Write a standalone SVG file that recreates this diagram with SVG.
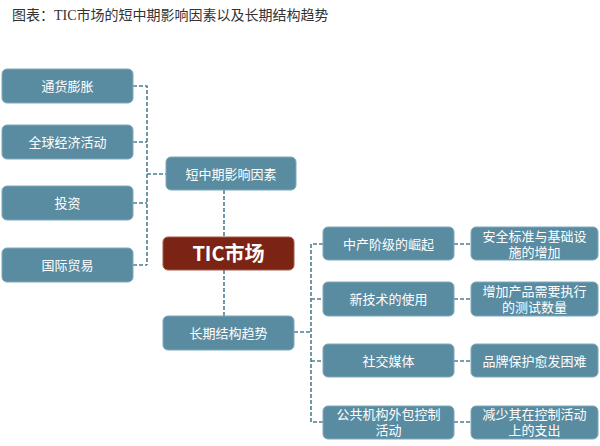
<svg xmlns="http://www.w3.org/2000/svg" width="600" height="446" viewBox="0 0 600 446">
<style>
.b{fill:#5a8ca1;stroke:#7fa9ba;stroke-width:1}
.t{fill:#fff;font-family:"Noto Sans CJK SC","Noto Sans",sans-serif;font-size:13px;text-anchor:middle}
.c{fill:none;stroke:#4e7e93;stroke-width:1.6;stroke-dasharray:4 2}
</style>
<rect width="600" height="446" fill="#fff"/>
<text x="12" y="20" font-family="'Liberation Serif','Noto Sans CJK SC',serif" font-size="14" fill="#333">图表：TIC市场的短中期影响因素以及长期结构趋势</text>
<g id="connectors">
<path class="c" d="M133 86H147V265M133 142H147M133 203H147M133 265H147M147 174H166"/>
<path class="c" d="M224 190V237M224 270V316"/>
<path class="c" d="M294 332H311M323 244H311V422H323M311 299H323M311 361H323"/>
<path class="c" d="M454 244H471M454 299H471M454 361H471M454 422H471"/>
</g>
<g id="n1"><rect class="b" x="2" y="69" width="131" height="34" rx="5"/><text class="t" x="67.5" y="91">通货膨胀</text></g>
<g id="n2"><rect class="b" x="2" y="125" width="131" height="34" rx="5"/><text class="t" x="67.5" y="147">全球经济活动</text></g>
<g id="n3"><rect class="b" x="2" y="186" width="131" height="34" rx="5"/><text class="t" x="67.5" y="208">投资</text></g>
<g id="n4"><rect class="b" x="2" y="248" width="131" height="34" rx="5"/><text class="t" x="67.5" y="270">国际贸易</text></g>
<g id="short"><rect class="b" x="166" y="157" width="130" height="33" rx="5"/><text class="t" x="231" y="179">短中期影响因素</text></g>
<g id="tic"><rect x="163" y="237" width="131" height="33" rx="5" fill="#7b2414" stroke="#a4584a"/><text x="228.5" y="261" fill="#fff" font-family="'Noto Sans CJK SC','Noto Sans',sans-serif" font-size="20" font-weight="bold" text-anchor="middle">TIC市场</text></g>
<g id="long"><rect class="b" x="163" y="316" width="131" height="34" rx="5"/><text class="t" x="228.5" y="338">长期结构趋势</text></g>
<g id="m1"><rect class="b" x="323" y="227" width="131" height="33" rx="5"/><text class="t" x="388.5" y="249">中产阶级的崛起</text></g>
<g id="m2"><rect class="b" x="323" y="282" width="131" height="34" rx="5"/><text class="t" x="388.5" y="304">新技术的使用</text></g>
<g id="m3"><rect class="b" x="323" y="344" width="131" height="33" rx="5"/><text class="t" x="388.5" y="366">社交媒体</text></g>
<g id="m4"><rect class="b" x="323" y="406" width="131" height="33" rx="5"/><text class="t" x="388.5" y="419">公共机构外包控制<tspan x="388.5" dy="16">活动</tspan></text></g>
<g id="r1"><rect class="b" x="471" y="227" width="127" height="33" rx="5"/><text class="t" x="534.5" y="241">安全标准与基础设<tspan x="534.5" dy="16">施的增加</tspan></text></g>
<g id="r2"><rect class="b" x="471" y="282" width="127" height="34" rx="5"/><text class="t" x="534.5" y="296">增加产品需要执行<tspan x="534.5" dy="16">的测试数量</tspan></text></g>
<g id="r3"><rect class="b" x="471" y="344" width="127" height="33" rx="5"/><text class="t" x="534.5" y="366">品牌保护愈发困难</text></g>
<g id="r4"><rect class="b" x="471" y="406" width="127" height="33" rx="5"/><text class="t" x="534.5" y="419">减少其在控制活动<tspan x="534.5" dy="16">上的支出</tspan></text></g>
</svg>
